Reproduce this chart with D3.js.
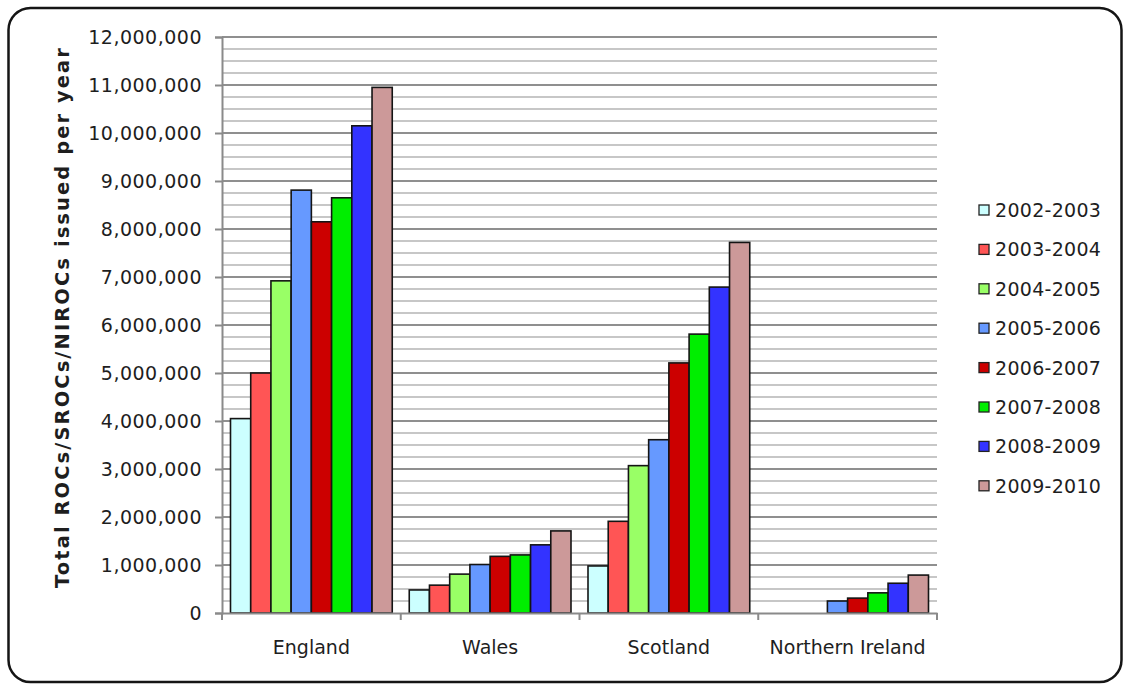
<!DOCTYPE html>
<html>
<head>
<meta charset="utf-8">
<script src="https://cdn.jsdelivr.net/npm/d3@7"></script>
<style>
  html, body { margin: 0; padding: 0; background: #fff; }
  svg { display: block; }
  text { font-family: "DejaVu Sans", Verdana, sans-serif; fill: #1e1e1e; }
</style>
</head>
<body>
<svg id="chart" width="1123" height="684"></svg>
<script>
// Renewables Obligation Certificates issued per year, by country
const countries = ["England", "Wales", "Scotland", "Northern Ireland"];
const years = ["2002-2003", "2003-2004", "2004-2005", "2005-2006",
               "2006-2007", "2007-2008", "2008-2009", "2009-2010"];
const englandValues  = [4050000, 5000000, 6920000, 8810000, 8150000, 8650000, 10150000, 10950000];
const walesValues    = [480000, 580000, 810000, 1010000, 1180000, 1210000, 1420000, 1710000];
const scotlandValues = [980000, 1910000, 3070000, 3610000, 5210000, 5810000, 6790000, 7720000];
const niValues       = [null, null, null, 250000, 310000, 420000, 620000, 790000];
const yTicks = [0, 1000000, 2000000, 3000000, 4000000, 5000000, 6000000,
                7000000, 8000000, 9000000, 10000000, 11000000, 12000000];
const yMinorStep = 250000;
const yTitle = "Total ROCs/SROCs/NIROCs issued per year";
const colors = ["#ccffff", "#ff5555", "#99ff66", "#6699ff",
                "#cc0000", "#00ee00", "#3333ff", "#cc9999"];

const seriesByCountry = [englandValues, walesValues, scotlandValues, niValues];

const svg = d3.select("#chart");
const plot = { left: 222, right: 937, top: 37, bottom: 613 };

// outer rounded frame
svg.append("rect")
  .attr("x", 8.5).attr("y", 8).attr("width", 1113).attr("height", 674)
  .attr("rx", 22).attr("ry", 22)
  .attr("fill", "#fff").attr("stroke", "#151515").attr("stroke-width", 2.5);

const y = d3.scaleLinear().domain([0, 12000000]).range([plot.bottom, plot.top]);
const x0 = d3.scaleBand().domain(countries).range([plot.left, plot.right]).padding(0);
const groupGap = 17;
const x1 = d3.scaleBand().domain(years)
  .range([groupGap / 2, x0.bandwidth() - groupGap / 2]).padding(0);

// horizontal gridlines: minor every 250,000, major every 1,000,000
const minorVals = d3.range(0, 12000000 + 1, yMinorStep).filter(v => v % 1000000 !== 0);
svg.append("g").selectAll("line").data(minorVals).join("line")
  .attr("x1", plot.left).attr("x2", plot.right)
  .attr("y1", d => y(d)).attr("y2", d => y(d))
  .attr("stroke", "#b4b4b4").attr("stroke-width", 1.5);
svg.append("g").selectAll("line").data(yTicks.filter(v => v > 0)).join("line")
  .attr("x1", plot.left).attr("x2", plot.right)
  .attr("y1", d => y(d)).attr("y2", d => y(d))
  .attr("stroke", "#8f8f8f").attr("stroke-width", 2);

// y axis
const fmt = d3.format(",");
const yAxis = d3.axisLeft(y).tickValues(yTicks).tickFormat(fmt).tickSize(7).tickPadding(13);
const gy = svg.append("g").attr("transform", `translate(${plot.left},0)`).call(yAxis);
gy.select(".domain").attr("stroke", "#8a8a8a").attr("stroke-width", 2);
gy.selectAll(".tick line").attr("stroke", "#8a8a8a").attr("stroke-width", 2);
gy.selectAll(".tick text")
  .style("font-family", "'DejaVu Sans', Verdana, sans-serif")
  .style("font-size", "19px").style("letter-spacing", "0.5px")
  .attr("fill", "#1e1e1e");

// bars
const groups = svg.append("g").selectAll("g").data(countries).join("g")
  .attr("transform", d => `translate(${x0(d)},0)`);
groups.selectAll("rect")
  .data((c, i) => years.map((yr, j) => ({ year: yr, value: seriesByCountry[i][j], color: colors[j] }))
    .filter(d => d.value != null))
  .join("rect")
  .attr("x", d => x1(d.year))
  .attr("y", d => y(d.value))
  .attr("width", x1.bandwidth())
  .attr("height", d => y(0) - y(d.value))
  .attr("fill", d => d.color)
  .attr("stroke", "#141414").attr("stroke-width", 1.6);

// x axis
const xAxis = d3.axisBottom(x0).tickSize(0).tickPadding(28);
const gx = svg.append("g").attr("transform", `translate(0,${plot.bottom})`).call(xAxis);
gx.select(".domain").attr("stroke", "#8a8a8a").attr("stroke-width", 2);
gx.selectAll(".tick text")
  .style("font-family", "'DejaVu Sans', Verdana, sans-serif")
  .style("font-size", "19px").attr("fill", "#1e1e1e");
// category separator ticks
const bounds = countries.map(c => x0(c)).concat([plot.right]);
gx.append("g").selectAll("line").data(bounds).join("line")
  .attr("x1", d => d).attr("x2", d => d).attr("y1", 0).attr("y2", 7)
  .attr("stroke", "#8a8a8a").attr("stroke-width", 2);

// y axis title
svg.append("text")
  .attr("transform", "translate(69,318) rotate(-90)")
  .attr("text-anchor", "middle")
  .attr("textLength", 540).attr("lengthAdjust", "spacing")
  .style("font-size", "19.5px").style("font-weight", "bold")
  .text(yTitle);

// legend
const legend = svg.append("g").attr("transform", "translate(979,210)");
const rowH = 39.4;
const items = legend.selectAll("g").data(years).join("g")
  .attr("transform", (d, i) => `translate(0,${i * rowH})`);
items.append("rect")
  .attr("x", 0).attr("y", -5).attr("width", 10).attr("height", 10)
  .attr("fill", (d, i) => colors[i]).attr("stroke", "#222").attr("stroke-width", 1.3);
items.append("text")
  .attr("x", 16).attr("y", 7)
  .style("font-size", "19px").style("letter-spacing", "0.3px")
  .text(d => d);
</script>
</body>
</html>
